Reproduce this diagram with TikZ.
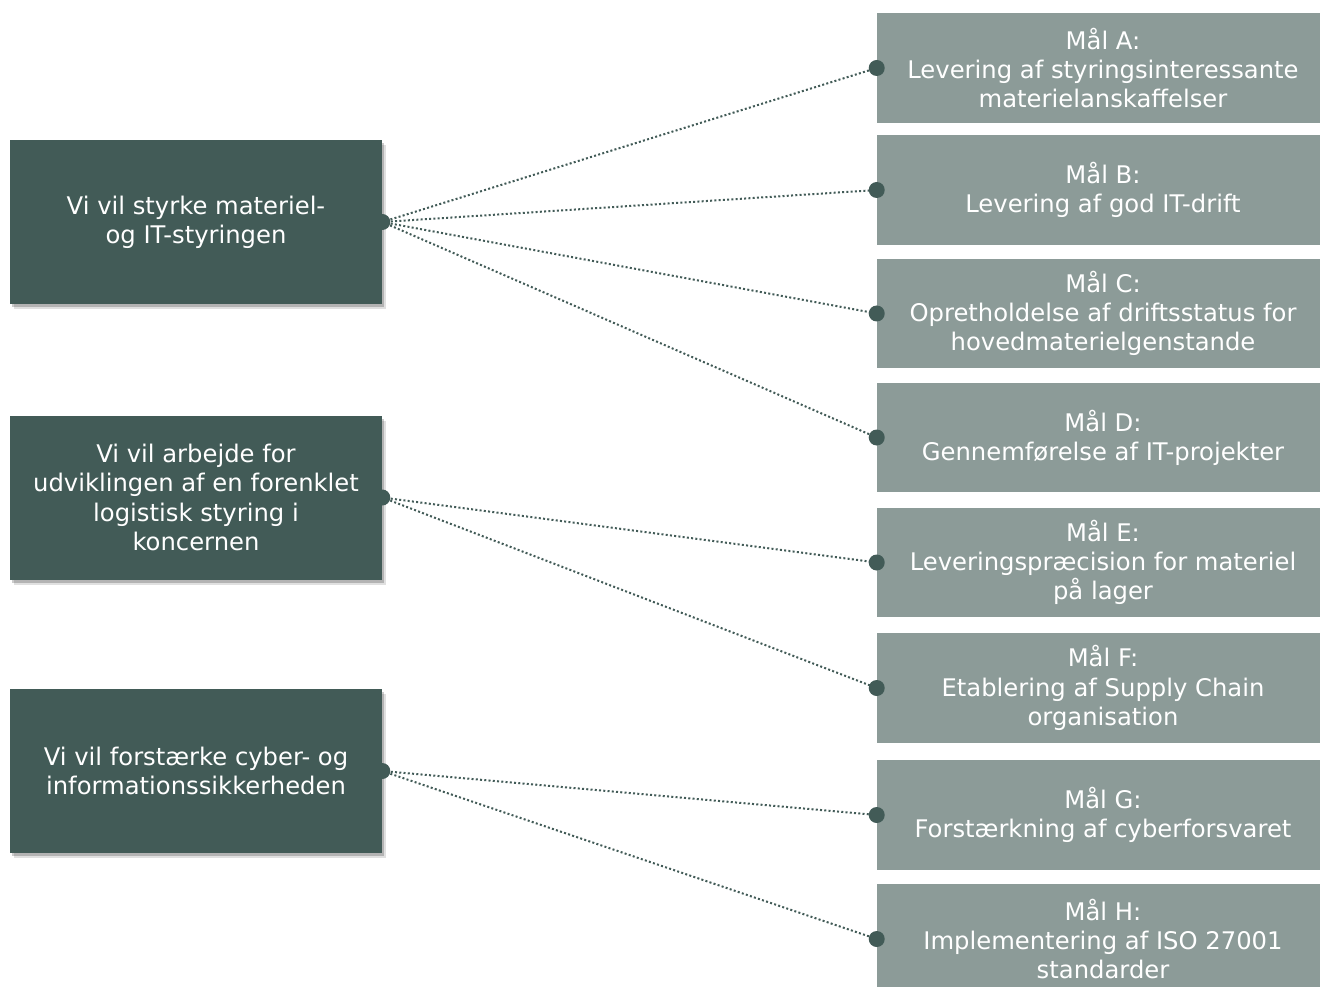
\documentclass[tikz,border=0pt]{standalone}
\usepackage{fontspec}
\setmainfont{DejaVu Sans}
\usetikzlibrary{shadows}

\definecolor{aimgreen}{HTML}{425B57}
\definecolor{goalgrey}{HTML}{8C9B98}

\begin{document}
\begin{tikzpicture}[x=0.75pt,y=-0.75pt,
    aim/.style={fill=aimgreen, text=white, minimum width=279pt, minimum height=123pt,
      inner sep=0pt, align=center, font=\fontsize{18.2}{21.9}\selectfont,
      drop shadow={shadow xshift=3pt, shadow yshift=-4pt, opacity=0.12, fill=black},
      drop shadow={shadow xshift=1.5pt, shadow yshift=-2.5pt, opacity=0.2, fill=black}},
    goal/.style={fill=goalgrey, text=white, minimum width=339pt, minimum height=82pt,
      inner sep=0pt, align=center, font=\fontsize{18.2}{21.9}\selectfont},
    link/.style={aimgreen, line width=1.5pt, dash pattern=on 1.5pt off 1.7pt},
    knob/.style={fill=aimgreen}]
    % Fix the page to the reference size
    \useasboundingbox (0,0) rectangle (1320,987);

    % The three aims on the left
    \node[aim] (aim1) at (196,222) {Vi vil styrke materiel-\\og IT-styringen};
    \node[aim] (aim2) at (196,497.5) {Vi vil arbejde for\\udviklingen af en forenklet\\logistisk styring i\\koncernen};
    \node[aim] (aim3) at (196,771) {Vi vil forstærke cyber- og\\informationssikkerheden};

    % The goals on the right
    \foreach \g/\y/\txt in {
        A/68/{Mål A:\\Levering af styringsinteressante\\materielanskaffelser},
        B/190/{Mål B:\\Levering af god IT-drift},
        C/313.5/{Mål C:\\Opretholdelse af driftsstatus for\\hovedmaterielgenstande},
        D/437.5/{Mål D:\\Gennemførelse af IT-projekter},
        E/562.5/{Mål E:\\Leveringspræcision for materiel\\på lager},
        F/688/{Mål F:\\Etablering af Supply Chain\\organisation},
        G/815/{Mål G:\\Forstærkning af cyberforsvaret},
        H/939/{Mål H:\\Implementering af ISO 27001\\standarder}}
      \node[goal] (goal\g) at (1103,\y) {\txt};

    % Dotted links from each aim to its goals
    \foreach \a/\g in {1/A,1/B,1/C,1/D,2/E,2/F,3/G,3/H}{
      \draw[link] (aim\a.east) -- (goal\g.west);
      \fill[knob] (goal\g.west) circle (6pt);
    }
    \foreach \a in {1,2,3}
      \fill[knob] (aim\a.east) circle (6pt);
\end{tikzpicture}
\end{document}
